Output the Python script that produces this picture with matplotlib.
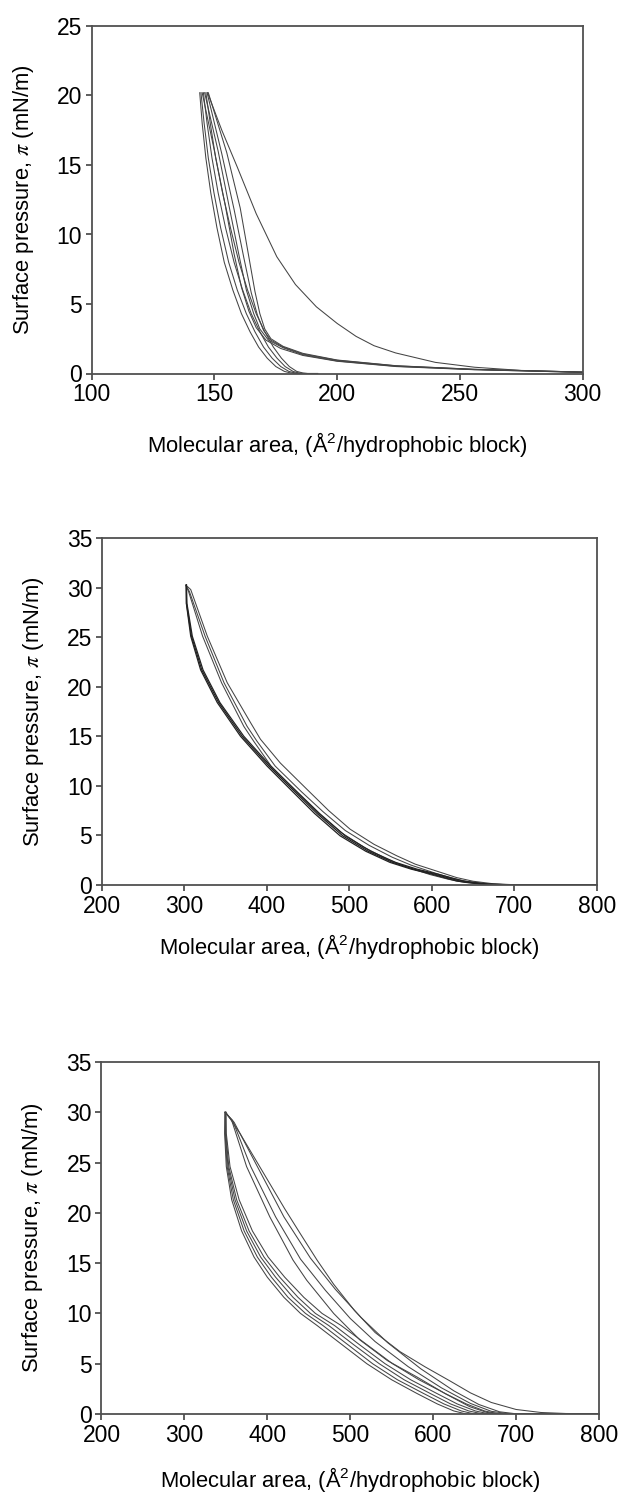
import matplotlib
matplotlib.use("Agg")
import matplotlib.pyplot as plt

plt.rcParams['font.family'] = ['Liberation Sans', 'DejaVu Sans']
plt.rcParams['mathtext.fontset'] = 'stix'

### panel 1 : isotherm cycles (area, pressure)
p1_comp_first_x = [300, 275, 256, 240, 223.8, 215, 207.7, 200, 191.5, 183, 175.4, 167, 159.3, 153, 147.2]
p1_comp_first_y = [0.1, 0.22, 0.45, 0.8, 1.48, 2.0, 2.67, 3.6, 4.8, 6.4, 8.4, 11.5, 14.85, 17.5, 20.2]

p1_comp_x = [
    [300, 256, 224, 200, 186, 178, 173, 170, 167.5, 165, 162, 158, 153, 147.0],
    [300, 256, 224, 200, 186, 178, 172, 168.5, 166, 163, 160, 156, 151.5, 146.0],
    [300, 256, 224, 200, 186, 177, 171, 167, 164, 161, 158, 154.5, 150, 145.0],
    [300, 256, 224, 200, 186, 178, 173, 170.5, 168.5, 166.5, 164, 160.5, 155, 147.5],
]
p1_comp_y = [
    [0.1, 0.3, 0.55, 0.95, 1.4, 1.9, 2.4, 3.1, 4.2, 5.8, 8.3, 11.8, 15.8, 20.2],
    [0.08, 0.28, 0.52, 0.9, 1.35, 1.85, 2.4, 3.2, 4.3, 6.0, 8.5, 12.0, 16.0, 20.2],
    [0.08, 0.27, 0.5, 0.88, 1.3, 1.8, 2.4, 3.3, 4.5, 6.2, 8.6, 12.0, 16.0, 20.2],
    [0.1, 0.3, 0.56, 0.97, 1.45, 1.95, 2.5, 3.2, 4.3, 5.9, 8.4, 11.9, 15.9, 20.2],
]

p1_exp_x = [
    [144.0, 145.0, 146.5, 148.5, 151.0, 154.0, 157.5, 161.0, 164.5, 168.0, 171.5, 175.0, 178.5, 181.0, 183.0, 192],
    [144.5, 145.8, 147.5, 149.8, 152.5, 155.8, 159.3, 163.0, 166.5, 170.0, 173.5, 177.0, 180.3, 182.8, 185.0, 192],
    [145.5, 147.0, 149.0, 151.5, 154.5, 158.0, 161.5, 165.0, 168.5, 172.0, 175.5, 178.8, 182.0, 184.3, 186.0, 192],
    [146.5, 148.3, 150.5, 153.3, 156.5, 160.0, 163.5, 167.0, 170.5, 174.0, 177.3, 180.5, 183.5, 186.0, 188.0, 192],
]
p1_exp_y = [
    [20.2, 18.0, 15.5, 13.0, 10.5, 8.0, 6.0, 4.3, 3.0, 1.9, 1.1, 0.5, 0.15, 0.04, 0, 0],
    [20.2, 18.0, 15.5, 13.0, 10.5, 8.0, 6.0, 4.3, 3.0, 1.9, 1.1, 0.5, 0.15, 0.04, 0, 0],
    [20.2, 18.0, 15.5, 13.0, 10.5, 8.0, 6.0, 4.3, 3.0, 1.9, 1.1, 0.5, 0.15, 0.04, 0, 0],
    [20.2, 18.0, 15.5, 13.0, 10.5, 8.0, 6.0, 4.3, 3.0, 1.9, 1.1, 0.5, 0.15, 0.04, 0, 0],
]

### panel 2
p2_comp_x = [
    [302.3, 307.6, 327.7, 351.9, 380, 392.2, 416.3, 448.6, 475, 500.9, 530, 557.4, 580, 609.7, 630, 650, 675, 700, 800],
    [302, 306, 325, 348, 376, 388, 410, 442, 468, 495, 524, 552, 575, 604, 625, 645, 670, 695, 800],
    [302, 305, 322, 345, 372, 384, 405, 437, 463, 490, 518, 546, 570, 598, 620, 640, 665, 690, 800],
]
p2_comp_y = [
    [30.2, 29.8, 25.1, 20.4, 16.4, 14.7, 12.3, 9.65, 7.5, 5.63, 4.1, 2.95, 2.1, 1.3, 0.75, 0.38, 0.12, 0.03, 0],
    [30.2, 29.6, 25.1, 20.4, 16.0, 14.5, 12.0, 9.4, 7.4, 5.5, 4.0, 2.8, 2.0, 1.2, 0.68, 0.32, 0.1, 0.02, 0],
    [30.2, 29.6, 25.1, 20.4, 16.0, 14.5, 12.0, 9.3, 7.2, 5.3, 3.8, 2.6, 1.8, 1.05, 0.58, 0.26, 0.07, 0.01, 0],
]
p2_exp_x = [
    [302.3, 302.3, 307.6, 319.6, 339.8, 368, 400.2, 428.4, 458, 488.8, 520, 549.3, 575, 599.6, 630, 660, 700, 800],
    [302.0, 302.5, 308.5, 321.0, 341.5, 370, 402.5, 431.0, 461, 492.0, 523, 552.5, 578, 603.0, 634, 664, 705, 800],
    [302.5, 303.0, 309.5, 322.5, 343.0, 372, 404.5, 433.5, 464, 495.0, 526, 556.0, 582, 607.0, 638, 668, 710, 800],
]
p2_exp_y = [
    [30.27, 28.4, 25.1, 21.7, 18.4, 15.0, 12.0, 9.65, 7.2, 4.96, 3.4, 2.28, 1.6, 1.1, 0.4, 0.08, 0, 0],
    [30.27, 28.4, 25.1, 21.7, 18.4, 15.0, 12.0, 9.65, 7.2, 4.96, 3.4, 2.28, 1.6, 1.1, 0.4, 0.08, 0, 0],
    [30.27, 28.4, 25.1, 21.7, 18.4, 15.0, 12.0, 9.65, 7.2, 4.96, 3.4, 2.28, 1.6, 1.1, 0.4, 0.08, 0, 0],
]

### panel 3
p3_exp_x = [
    [349, 348.5, 350.5, 357, 369, 384, 400, 420, 440, 460, 490, 520, 550, 580, 605, 625, 640, 800],
    [349, 349.0, 351.5, 359, 372, 388, 405, 425, 446, 467, 497, 527, 557, 588, 613, 634, 650, 800],
    [349.5, 349.5, 352.5, 361, 375, 392, 410, 431, 452, 474, 504, 535, 565, 596, 621, 643, 660, 800],
    [350, 350.0, 353.5, 363, 378, 396, 415, 437, 458, 481, 511, 542, 573, 604, 629, 651, 668, 800],
    [350, 350.5, 355.0, 366, 382, 401, 421, 444, 466, 489, 520, 551, 583, 614, 640, 662, 680, 800],
]
p3_exp_y = [
    [30, 27.9, 24.6, 21.3, 18.2, 15.6, 13.6, 11.6, 10.0, 8.8, 6.9, 5.0, 3.4, 2.06, 1.0, 0.3, 0.0, 0],
    [30, 27.9, 24.6, 21.3, 18.2, 15.6, 13.6, 11.6, 10.0, 8.8, 6.9, 5.0, 3.4, 2.06, 1.0, 0.3, 0.0, 0],
    [30, 27.9, 24.6, 21.3, 18.2, 15.6, 13.6, 11.6, 10.0, 8.8, 6.9, 5.0, 3.4, 2.06, 1.0, 0.3, 0.0, 0],
    [30, 27.9, 24.6, 21.3, 18.2, 15.6, 13.6, 11.6, 10.0, 8.8, 6.9, 5.0, 3.4, 2.06, 1.0, 0.3, 0.0, 0],
    [30, 27.9, 24.6, 21.3, 18.2, 15.6, 13.6, 11.6, 10.0, 8.8, 6.9, 5.0, 3.4, 2.06, 1.0, 0.3, 0.0, 0],
]
p3_comp_x = [
    [349, 357, 375, 403, 431, 447.5, 480, 511.7, 545, 580, 615, 644, 665, 685, 800],
    [349, 358, 380, 410, 440, 470, 500, 530, 570, 610, 645, 670, 690, 800],
    [349, 360, 388, 420, 452, 482, 513, 545, 585, 625, 655, 680, 700, 800],
    [350, 367, 385, 403, 421, 440, 460, 480, 505, 530, 560, 590, 620, 645, 670, 700, 730, 760, 800],
]
p3_comp_y = [
    [30, 29.2, 24.6, 19.6, 15.3, 13.3, 10.0, 7.36, 5.3, 3.7, 2.0, 0.73, 0.15, 0, 0],
    [30, 29.2, 24.6, 19.6, 15.4, 12.3, 9.5, 7.2, 4.7, 2.6, 1.05, 0.27, 0.03, 0],
    [30, 29.0, 24.6, 19.6, 15.5, 12.4, 9.6, 7.1, 4.5, 2.3, 0.95, 0.22, 0.02, 0],
    [30, 27.9, 25.4, 22.9, 20.4, 17.9, 15.3, 12.9, 10.3, 8.1, 6.2, 4.7, 3.3, 2.1, 1.15, 0.45, 0.15, 0.05, 0.02],
]

line_kw = dict(color="#444444", lw=0.75, solid_joinstyle="round")

W, H = 620, 1495
fig = plt.figure(figsize=(W / 100, H / 100), dpi=100)

def make_axes(left, right, top, bottom):
    return fig.add_axes([left / W, 1 - bottom / H, (right - left) / W, (bottom - top) / H])

def style(ax, xlim, ylim, xticks, yticks, xpad):
    ax.set_xlim(*xlim)
    ax.set_ylim(*ylim)
    ax.set_xticks(xticks)
    ax.set_yticks(yticks)
    for s in ax.spines.values():
        s.set_color("#505050")
        s.set_linewidth(1.3)
    ax.tick_params(direction="out", length=4.5, width=1.3, color="#505050",
                   labelsize=16.5, pad=2.5, top=False, right=False)
    ax.set_ylabel(r"Surface pressure, $\pi$ (mN/m)", fontsize=15.8, labelpad=15)
    ax.set_xlabel(r"Molecular area, (Å$\mathregular{^2}$/hydrophobic block)", fontsize=15.8, labelpad=xpad)

ax1 = make_axes(91.7, 582.7, 26, 373.5)
ax1.plot(p1_comp_first_x, p1_comp_first_y, **line_kw)
for xs, ys in zip(p1_comp_x, p1_comp_y):
    ax1.plot(xs, ys, **line_kw)
for xs, ys in zip(p1_exp_x, p1_exp_y):
    ax1.plot(xs, ys, **line_kw)
style(ax1, (100, 300), (0, 25), range(100, 301, 50), range(0, 26, 5), 17)

ax2 = make_axes(102, 596.7, 538, 885)
for xs, ys in zip(p2_comp_x, p2_comp_y):
    ax2.plot(xs, ys, **line_kw)
for xs, ys in zip(p2_exp_x, p2_exp_y):
    ax2.plot(xs, ys, color="#222222", lw=0.9, solid_joinstyle="round")
style(ax2, (200, 800), (0, 35), range(200, 801, 100), range(0, 36, 5), 10)

ax3 = make_axes(101.5, 599, 1062, 1414)
for xs, ys in zip(p3_exp_x, p3_exp_y):
    ax3.plot(xs, ys, **line_kw)
for xs, ys in zip(p3_comp_x, p3_comp_y):
    ax3.plot(xs, ys, **line_kw)
style(ax3, (200, 800), (0, 35), range(200, 801, 100), range(0, 36, 5), 13)

fig.savefig("out.png", dpi=100)
